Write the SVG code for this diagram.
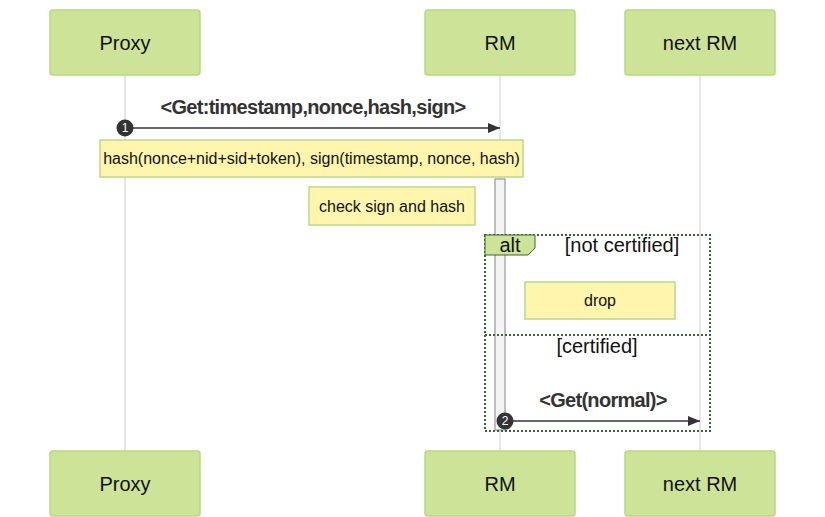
<svg xmlns="http://www.w3.org/2000/svg" width="825" height="517" viewBox="0 0 825 517">
<defs>
<style>
.actor{fill:#cde498;stroke:#b7da7c;stroke-width:1.5}
.atxt{font-family:"Liberation Sans",Arial,sans-serif;font-size:20px;fill:#111;text-anchor:middle}
.life{stroke:#dcdcdc;stroke-width:1.5}
.msg{stroke:#333;stroke-width:1.5;fill:none}
.mtxt{font-family:"Liberation Sans",Arial,sans-serif;font-size:20px;font-weight:bold;fill:#333;text-anchor:middle;letter-spacing:-0.7px}
.note{fill:#fff5ad;stroke:#b9d98c;stroke-width:1.5}
.ntxt{font-family:"Liberation Sans",Arial,sans-serif;font-size:16px;fill:#111;text-anchor:middle}
.loop{fill:none;stroke:#326932;stroke-width:2;stroke-dasharray:2 2}
.ltxt{font-family:"Liberation Sans",Arial,sans-serif;font-size:20px;fill:#111;text-anchor:middle}
.seq{fill:#333}
.seqt{font-family:"Liberation Sans",Arial,sans-serif;font-size:12px;fill:#fff;text-anchor:middle}
</style>
<marker id="arrow" viewBox="0 0 12 10" refX="12" refY="5" markerWidth="12" markerHeight="10" markerUnits="userSpaceOnUse" orient="auto">
<path d="M0,0 L12,5 L0,10 z" fill="#333"/>
</marker>
</defs>
<g id="lifelines">
<line class="life" x1="125" y1="75" x2="125" y2="451"/>
<line class="life" x1="500" y1="75" x2="500" y2="451"/>
<line class="life" x1="700" y1="75" x2="700" y2="451"/>
</g>
<g id="actor-proxy-top"><rect class="actor" x="50" y="10" width="150" height="65" rx="3"/><text class="atxt" x="125" y="50">Proxy</text></g>
<g id="actor-rm-top"><rect class="actor" x="425" y="10" width="150" height="65" rx="3"/><text class="atxt" x="500" y="50">RM</text></g>
<g id="actor-next-top"><rect class="actor" x="625" y="10" width="150" height="65" rx="3"/><text class="atxt" x="700" y="50">next RM</text></g>
<g id="actor-proxy-bottom"><rect class="actor" x="50" y="451" width="150" height="65" rx="3"/><text class="atxt" x="125" y="491">Proxy</text></g>
<g id="actor-rm-bottom"><rect class="actor" x="425" y="451" width="150" height="65" rx="3"/><text class="atxt" x="500" y="491">RM</text></g>
<g id="actor-next-bottom"><rect class="actor" x="625" y="451" width="150" height="65" rx="3"/><text class="atxt" x="700" y="491">next RM</text></g>
<g id="activation"><rect x="495" y="179" width="10" height="251" fill="#f4f4f4" stroke="#aaa" stroke-width="1.5"/></g>
<g id="note1"><rect class="note" x="100" y="140" width="423" height="37"/><text class="ntxt" x="311.5" y="164">hash(nonce+nid+sid+token), sign(timestamp, nonce, hash)</text></g>
<g id="note2"><rect class="note" x="309" y="187" width="166" height="38"/><text class="ntxt" x="392" y="212">check sign and hash</text></g>
<g id="alt">
<rect class="loop" x="485" y="235" width="225" height="196"/>
<path d="M485,235 L535,235 L535,248 L528,255 L485,255 z" fill="#cde498" stroke="#326932" stroke-width="1"/>
<text class="ltxt" x="510" y="252">alt</text>
<text class="ltxt" x="622" y="252">[not certified]</text>
<line class="loop" x1="485" y1="335" x2="710" y2="335"/>
<text class="ltxt" x="597" y="353">[certified]</text>
</g>
<g id="note3"><rect class="note" x="525" y="282" width="150" height="37"/><text class="ntxt" x="600" y="306">drop</text></g>
<g id="connectors">
<line class="msg" x1="125" y1="128" x2="500" y2="128" marker-end="url(#arrow)"/>
<text class="mtxt" x="313" y="114">&lt;Get:timestamp,nonce,hash,sign&gt;</text>
<line class="msg" x1="505" y1="421" x2="700" y2="421" marker-end="url(#arrow)"/>
<text class="mtxt" x="603" y="407">&lt;Get(normal)&gt;</text>
<circle class="seq" cx="125" cy="128" r="8.5"/><text class="seqt" x="125" y="132">1</text>
<circle class="seq" cx="505" cy="421" r="8.5"/><text class="seqt" x="505" y="425">2</text>
</g>
</svg>
